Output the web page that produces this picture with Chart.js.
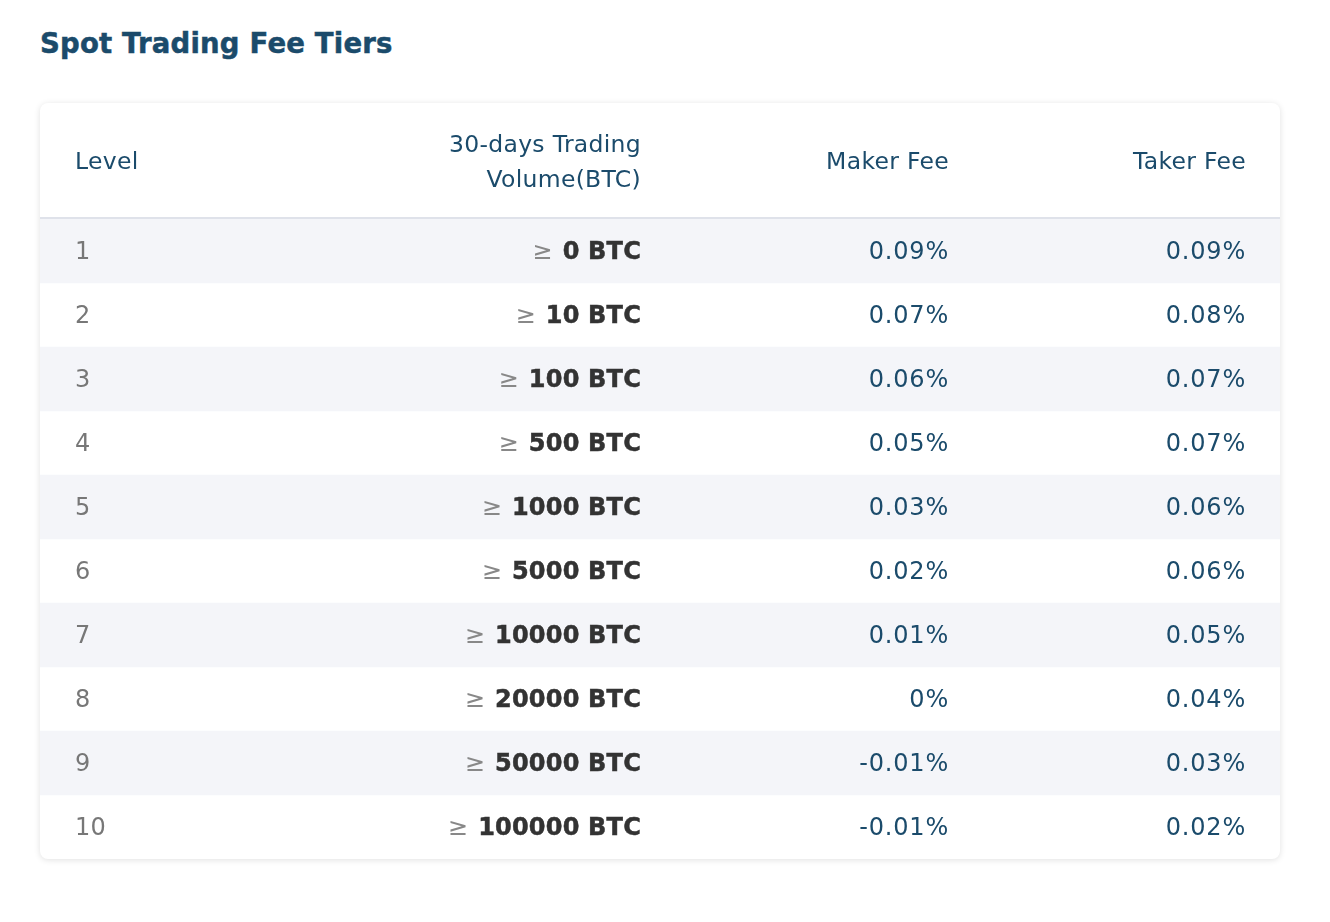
<!DOCTYPE html>
<html>
<head>
<meta charset="utf-8">
<title>Spot Trading Fee Tiers</title>
<script src="https://cdn.jsdelivr.net/npm/chart.js@4.4.1/dist/chart.umd.min.js"></script>
<style>
  html, body { margin: 0; padding: 0; background: #fff; }
  body { width: 1330px; height: 922px; position: relative; font-family: "DejaVu Sans", sans-serif; }
  h1 {
    position: absolute; left: 40px; top: 30px; margin: 0;
    font-size: 27.5px; line-height: 1; font-weight: bold; color: #1b4b6b;
    letter-spacing: 0.2px; -webkit-text-stroke: 0.5px #1b4b6b;
  }
  .card {
    position: absolute; left: 40px; top: 103px; width: 1240px; height: 756px;
    border-radius: 8px; overflow: hidden; background: #fff;
    box-shadow: 0 1px 6px rgba(0, 0, 0, 0.12);
  }
  canvas { display: block; }
</style>
</head>
<body>
<h1>Spot Trading Fee Tiers</h1>
<div class="card"><canvas id="feeTable" width="1240" height="756"></canvas></div>

<script>
// table data
var levels = ['1', '2', '3', '4', '5', '6', '7', '8', '9', '10'];
var volumes = [0, 10, 100, 500, 1000, 5000, 10000, 20000, 50000, 100000];
var makerFees = [0.09, 0.07, 0.06, 0.05, 0.03, 0.02, 0.01, 0, -0.01, -0.01];
var takerFees = [0.09, 0.08, 0.07, 0.07, 0.06, 0.06, 0.05, 0.04, 0.03, 0.02];
var headers = ['Level', ['30-days Trading', 'Volume(BTC)'], 'Maker Fee', 'Taker Fee'];

var headColor = '#1b4b6b';
var fontFamily = '"DejaVu Sans", sans-serif';

// column anchors on the x scale (card pixels), align per column
var columns = [
  { x: 35, align: 'left' },
  { x: 601, align: 'right' },
  { x: 909, align: 'right' },
  { x: 1206, align: 'right' }
];

// striped rows: odd rows get a full-width floating bar
var stripes = levels.map(function (l, i) {
  return i % 2 === 0 ? [0, 1240] : null;
});

var tablePlugin = {
  id: 'tableText',
  afterDatasetsDraw: function (chart) {
    var ctx = chart.ctx;
    var xs = chart.scales.x;
    var ys = chart.scales.y;
    var top = chart.chartArea.top;

    ctx.save();
    // header separator
    ctx.fillStyle = '#dfe2ea';
    ctx.fillRect(0, top - 2, chart.width, 2);

    // header labels
    ctx.font = '23.5px ' + fontFamily;
    ctx.letterSpacing = '0.3px';
    ctx.fillStyle = headColor;
    ctx.textBaseline = 'middle';
    headers.forEach(function (h, c) {
      var col = columns[c];
      ctx.textAlign = col.align;
      var x = xs.getPixelForValue(col.x);
      if (Array.isArray(h)) {
        ctx.fillText(h[0], x, top / 2 - 15);
        ctx.fillText(h[1], x, top / 2 + 20);
      } else {
        ctx.fillText(h, x, top / 2 + 2);
      }
    });

    // body rows
    levels.forEach(function (lvl, i) {
      var y = ys.getPixelForValue(i) + 2;

      ctx.textAlign = 'left';
      ctx.letterSpacing = '0.3px';
      ctx.font = '24px ' + fontFamily;
      ctx.fillStyle = '#777';
      ctx.fillText(lvl, xs.getPixelForValue(columns[0].x), y);

      // volume: grey sign + bold amount
      var vx = xs.getPixelForValue(columns[1].x);
      var amount = volumes[i] + ' BTC';
      ctx.textAlign = 'right';
      ctx.letterSpacing = '0.2px';
      ctx.font = 'bold 24px ' + fontFamily;
      ctx.fillStyle = '#333';
      ctx.strokeStyle = '#333';
      ctx.lineWidth = 0.5;
      ctx.fillText(amount, vx, y);
      ctx.strokeText(amount, vx, y);
      var w = ctx.measureText(amount).width;
      ctx.letterSpacing = '0.3px';
      ctx.font = '24px ' + fontFamily;
      ctx.fillStyle = '#888';
      ctx.fillText('\u2265 ', vx - w - 2, y);

      ctx.fillStyle = headColor;
      ctx.letterSpacing = '0.8px';
      ctx.fillText(makerFees[i] + '%', xs.getPixelForValue(columns[2].x), y);
      ctx.fillText(takerFees[i] + '%', xs.getPixelForValue(columns[3].x), y);
    });
    ctx.restore();
  }
};

new Chart(document.getElementById('feeTable').getContext('2d'), {
  type: 'bar',
  data: {
    labels: levels,
    datasets: [{
      data: stripes,
      backgroundColor: '#f4f5f9',
      borderWidth: 0,
      barPercentage: 1,
      categoryPercentage: 1
    }]
  },
  options: {
    indexAxis: 'y',
    responsive: false,
    animation: false,
    events: [],
    layout: { padding: { top: 116, left: 0, right: 0, bottom: 0 } },
    scales: {
      x: { type: 'linear', min: 0, max: 1240, display: false },
      y: { type: 'category', offset: true, display: false }
    },
    plugins: {
      legend: { display: false },
      tooltip: { enabled: false }
    }
  },
  plugins: [tablePlugin]
});
</script>
</body>
</html>
